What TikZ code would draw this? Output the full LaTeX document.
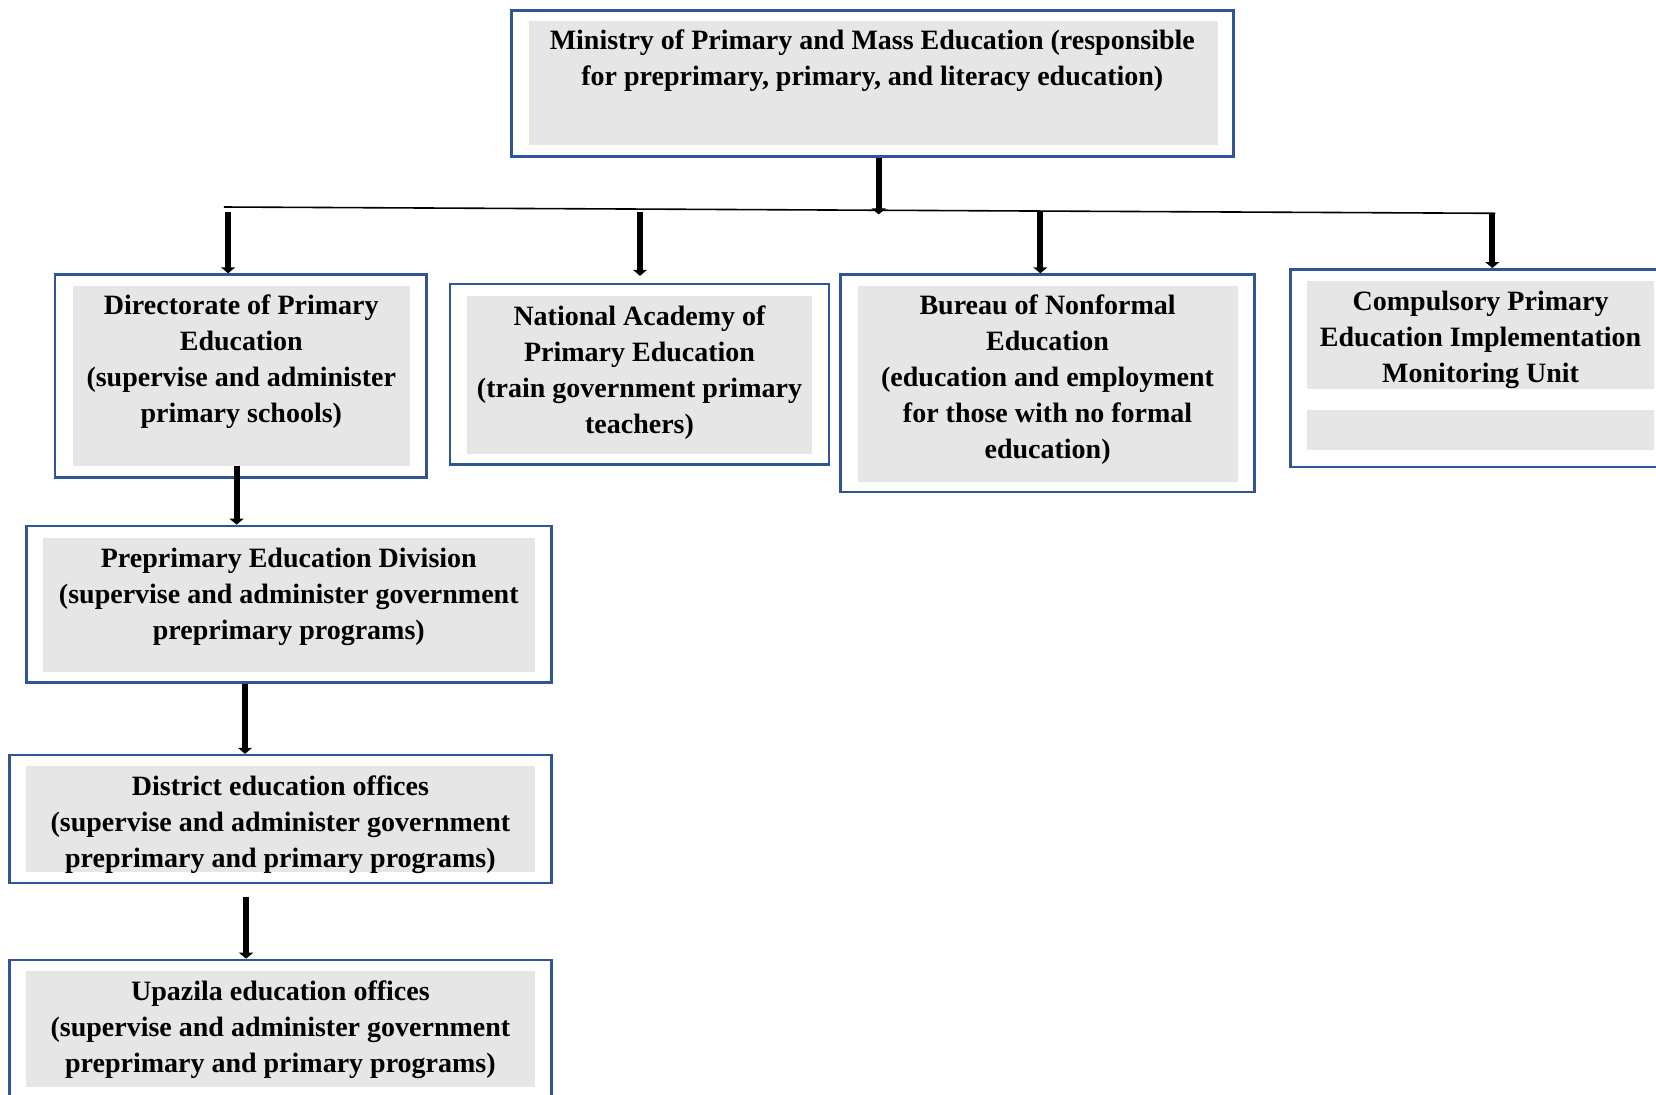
\documentclass[tikz,border=0pt]{standalone}
\usepackage{fontspec}
\setmainfont{Liberation Serif}
\usetikzlibrary{arrows.meta,fit}
\definecolor{boxblue}{HTML}{2F5597}
\definecolor{boxgray}{HTML}{E6E6E6}
\begin{document}
\begin{tikzpicture}[x=0.5pt,y=-0.5pt,
  outerbox/.style={draw=boxblue,line width=1.3pt,inner sep=0pt,fill=white},
  innerbox/.style={fill=boxgray,inner sep=0pt},
  lbl/.style={font=\fontsize{14}{18}\selectfont\bfseries,align=center,anchor=base,inner sep=0pt},
  arr/.style={line width=3pt,-{Triangle[width=7pt,length=3pt]}},
  bar/.style={line width=0.8pt}]
\useasboundingbox (0,0) rectangle (1656,1094);

% Ministry
\node[outerbox,fit={(511.2,10.6)(1233.5,156.3)}] (min) {};
\node[innerbox,fit={(529.1,21.1)(1218.4,144.7)}] (minI) {};
\node[lbl] (minT) at (872.3,85.6) {Ministry of Primary and Mass Education (responsible\\for preprimary, primary, and literacy education)};

% Directorate
\node[outerbox,fit={(54.9,274.6)(426.7,477.4)}] (dir) {};
\node[innerbox,fit={(72.9,286.2)(409.8,465.7)}] (dirI) {};
\node[lbl] (dirT) at (241.3,422.7) {Directorate of Primary\\Education\\(supervise and administer\\primary schools)};

% National Academy
\node[outerbox,fit={(449.9,284.1)(829.0,464.7)}] (nat) {};
\node[innerbox,fit={(466.8,295.7)(812.1,454.1)}] (natI) {};
\node[lbl] (natT) at (639.5,433.3) {National Academy of\\Primary Education\\(train government primary\\teachers)};

% Bureau
\node[outerbox,fit={(840.7,274.6)(1254.6,492.1)}] (bur) {};
\node[innerbox,fit={(857.6,286.2)(1237.7,481.6)}] (burI) {};
\node[lbl] (burT) at (1047.6,458.7) {Bureau of Nonformal\\Education\\(education and employment\\for those with no formal\\education)};

% Compulsory
\node[outerbox,fit={(1290.6,269.3)(1670.6,466.8)}] (cmp) {};
\node[innerbox,fit={(1307.4,280.9)(1653.8,388.6)}] (cmpI) {};
\node[innerbox,fit={(1307.4,409.8)(1653.8,449.9)}] (cmpS) {};
\node[lbl] (cmpT) at (1480.6,382.5) {Compulsory Primary\\Education Implementation\\Monitoring Unit};

% Preprimary
\node[outerbox,fit={(26.4,525.9)(551.3,682.2)}] (pre) {};
\node[innerbox,fit={(43.3,537.5)(535.4,671.7)}] (preI) {};
\node[lbl] (preT) at (288.8,639.1) {Preprimary Education Division\\(supervise and administer government\\preprimary programs)};

% District
\node[outerbox,fit={(9.5,755.1)(551.3,882.9)}] (dis) {};
\node[innerbox,fit={(26.4,765.7)(535.4,872.3)}] (disI) {};
\node[lbl] (disT) at (280.4,867.2) {District education offices\\(supervise and administer government\\preprimary and primary programs)};

% Upazila
\node[outerbox,fit={(9.5,960.0)(551.3,1100)}] (upa) {};
\node[innerbox,fit={(26.4,970.6)(535.4,1086.7)}] (upaI) {};
\node[lbl] (upaT) at (280.4,1072.1) {Upazila education offices\\(supervise and administer government\\preprimary and primary programs)};

% connector bar
\coordinate (hl) at (223.9,207);
\coordinate (hr) at (1495.4,213.3);
\draw[bar] (hl) -- (hr);
\coordinate (j0) at (878.7,214.4);
\draw[arr] (min.south -| j0) -- (j0);

\coordinate (c1) at (228.1,212.3);
\coordinate (c2) at (640.0,212.3);
\coordinate (c3) at (1040.3,212.3);
\coordinate (c4) at (1492.3,213.3);
\draw[arr] (c1) -- (c1 |- dir.north);
\draw[arr,shorten >=3.5pt] (c2) -- (c2 |- nat.north);
\draw[arr] (c3) -- (c3 |- bur.north);
\draw[arr] (c4) -- (c4 |- cmp.north);

% vertical chain
\coordinate (v1) at (236.6,0);
\draw[arr] (v1 |- dirI.south) -- (v1 |- pre.north);
\coordinate (v2) at (245.0,0);
\draw[arr] (v2 |- pre.south) -- (v2 |- dis.north);
\coordinate (v3) at (246.1,0);
\draw[arr,shorten <=6.3pt] (v3 |- dis.south) -- (v3 |- upa.north);
\end{tikzpicture}
\end{document}
